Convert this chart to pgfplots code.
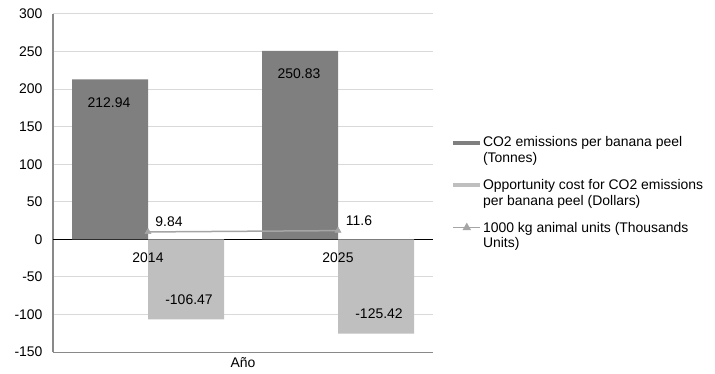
\documentclass[border=0pt]{standalone}
\usepackage{fontspec}
\setmainfont{Liberation Sans}
\usepackage{pgfplots}
\pgfplotsset{compat=1.18}
\definecolor{darkbar}{HTML}{7F7F7F}
\definecolor{lightbar}{HTML}{BFBFBF}
\definecolor{linegray}{HTML}{A5A5A5}
\definecolor{gridgray}{HTML}{D9D9D9}
\definecolor{axisgray}{HTML}{898989}
\begin{document}
\begin{tikzpicture}[font=\fontsize{14}{16}\selectfont]
\begin{axis}[
  at={(53bp,22bp)}, anchor=south west,
  scale only axis, width=380bp, height=338bp,
  xmin=-0.5, xmax=1.5, ymin=-150, ymax=300,
  ytick={-150,-100,...,300},
  xtick={0,1}, xticklabels={},
  major tick length=0pt,
  axis lines*=left, axis line style={-},
  y axis line style={draw=axisgray, line width=1.8bp},
  x axis line style={draw=axisgray, line width=1bp},
  ymajorgrids, grid style={gridgray, line width=1bp},
  extra y ticks={0}, extra y tick labels={},
  extra y tick style={grid style={black, line width=1bp}},
  /pgf/number format/assume math mode=true,
  ticklabel style={font=\fontsize{14}{16}\selectfont},
  yticklabel style={xshift=-7bp},
  xlabel={Año},
  xlabel style={at={(axis description cs:0.5,0)}, anchor=center, yshift=-11bp},
  clip=false,
  legend cell align=left,
  legend style={at={(1.043,0.47)}, anchor=west, draw=none, fill=none,
    row sep=11bp, cells={align=left}, font=\fontsize{14}{16}\selectfont},
]
\addplot[fill=darkbar, draw=none, ybar, bar width=0.4, bar shift=-0.2,
  nodes near coords, point meta=explicit symbolic,
  every node near coord/.append style={anchor=center, xshift=-39bp, yshift=-23bp, black},
  legend image code/.code={\fill[darkbar] (0bp,6bp) rectangle (27bp,10bp);}]
  coordinates {(0,212.94) [212.94] (1,250.83) [250.83]};
\addlegendentry{CO2 emissions per banana peel\\(Tonnes)}
\addplot[fill=lightbar, draw=none, ybar, bar width=0.4, bar shift=0.2,
  nodes near coords, point meta=explicit symbolic,
  every node near coord/.append style={anchor=center, xshift=41bp, yshift=20bp, black},
  legend image code/.code={\fill[lightbar] (0bp,6bp) rectangle (27bp,10bp);}]
  coordinates {(0,-106.47) [-106.47] (1,-125.42) [-125.42]};
\addlegendentry{Opportunity cost for CO2 emissions\\per banana peel (Dollars)}
\addplot[draw=linegray, line width=1.5bp, mark=triangle*, mark size=3.5bp,
  mark options={fill=linegray, draw=linegray, line width=0.5bp},
  nodes near coords, point meta=explicit symbolic,
  every node near coord/.append style={anchor=center, xshift=21bp, yshift=10bp, black},
  legend image code/.code={\draw[linegray, line width=1.5bp] (0bp,8bp) -- (27bp,8bp);
    \fill[linegray] (13.5bp,8bp) ++(90:3.5bp) -- ++(-120:6bp) -- ++(0:6bp) -- cycle;}]
  coordinates {(0,9.84) [9.84] (1,11.6) [11.6]};
\addlegendentry{1000 kg animal units (Thousands\\Units)}
\node[anchor=center, yshift=-18bp] at (axis cs:0,0) {2014};
\node[anchor=center, yshift=-18bp] at (axis cs:1,0) {2025};
\end{axis}
\pgfresetboundingbox
\path (0,0) rectangle (715bp,374bp);
\end{tikzpicture}
\end{document}
